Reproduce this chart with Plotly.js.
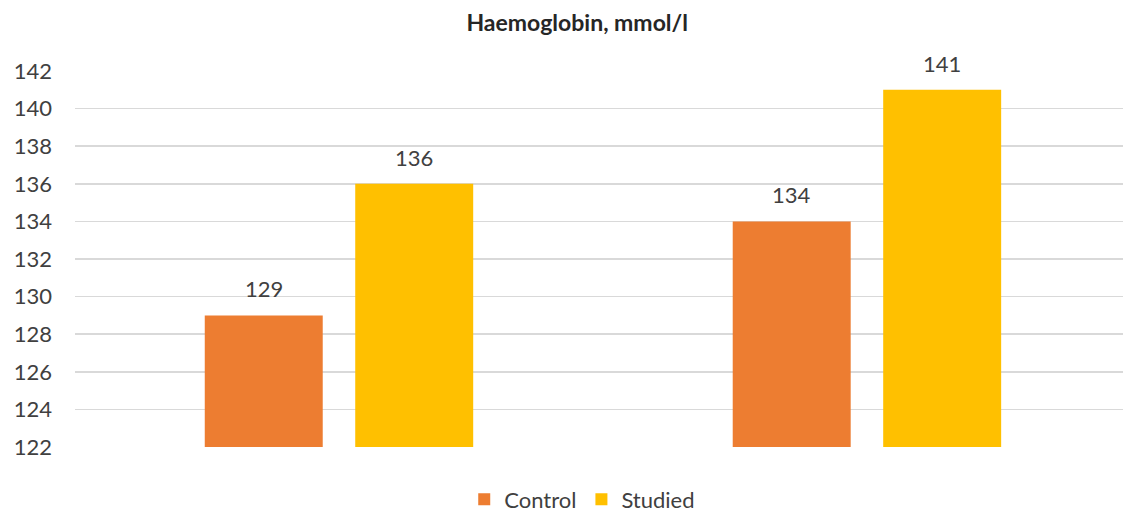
<!DOCTYPE html>
<html>
<head>
<meta charset="utf-8">
<script src="https://cdn.plot.ly/plotly-3.0.1.min.js"></script>
<style>html,body{margin:0;padding:0;background:#fff;}#chart{width:1123px;height:515px;}</style>
</head>
<body>
<div id="chart"></div>
<script>
const categories = ["Group 1", "Group 2"];
const controlValues = [129, 134];
const studiedValues = [136, 141];
const yTicks = [122, 124, 126, 128, 130, 132, 134, 136, 138, 140, 142];

const FONT = "Lato, 'Open Sans', sans-serif";
const common = {
  type: "bar",
  x: categories,
  hoverinfo: "none"
};
const traces = [
  Object.assign({}, common, {name: "Control", y: controlValues, marker: {color: "#ED7D31"}}),
  Object.assign({}, common, {name: "Studied", y: studiedValues, marker: {color: "#FFC000"}})
];

// value labels placed above each bar through the axis scales
const GROUP_OFFSET_PX = 75;
const annotations = [];
[[controlValues, -GROUP_OFFSET_PX], [studiedValues, GROUP_OFFSET_PX]].forEach(([vals, dx]) => {
  vals.forEach((v, i) => {
    annotations.push({
      x: categories[i], y: v, xref: "x", yref: "y",
      text: String(v), showarrow: false,
      xanchor: "center", yanchor: "bottom",
      xshift: dx, yshift: 11,
      font: {family: FONT, size: 22, color: "#404040"}
    });
  });
});

const layout = {
  width: 1123, height: 515,
  margin: {l: 75, r: 0, t: 71, b: 68},
  paper_bgcolor: "#fff", plot_bgcolor: "#fff",
  font: {family: FONT, color: "#404040", size: 22},
  title: {text: "<b>Haemoglobin, mmol/l</b>", x: 0.514, xanchor: "center", y: 0.955, yanchor: "middle", font: {family: FONT, size: 23, color: "#262626"}},
  barmode: "group",
  bargap: 0.43,
  bargroupgap: 0.216,
  showlegend: true,
  legend: {orientation: "h", x: 0.484, xanchor: "center", xref: "paper", yref: "container", y: 0.03, yanchor: "middle", font: {family: FONT, size: 22, color: "#404040"}, itemwidth: 30, traceorder: "normal"},
  xaxis: {range: [-0.5, 1.485], showticklabels: false, showgrid: false, zeroline: false, showline: false, ticks: ""},
  yaxis: {range: [122, 142], tickvals: yTicks, ticktext: yTicks.map(String), showgrid: true, gridcolor: "#D9D9D9", gridwidth: 1.5, zeroline: false, showline: false, ticks: "", ticklabelstandoff: 22, tickfont: {family: FONT, size: 22, color: "#404040"}},
  annotations: annotations
};
Plotly.newPlot("chart", traces, layout, {displayModeBar: false, staticPlot: true});
</script>
</body>
</html>
